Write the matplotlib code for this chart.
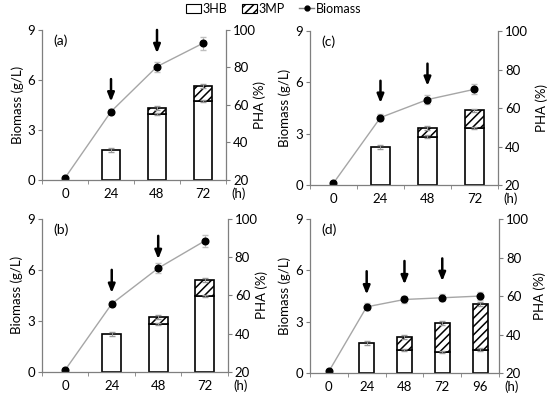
import numpy as np
import matplotlib.pyplot as plt
from matplotlib.patches import Patch
from matplotlib.lines import Line2D

plt.rcParams['font.family'] = ['Lato', 'DejaVu Sans']
plt.rcParams['hatch.linewidth'] = 1.1

# time points
t4 = ['0', '24', '48', '72']
t5 = ['0', '24', '48', '72', '96']

# biomass (g/L) and errors
bio_a = [0.12, 4.1, 6.8, 8.2]
bio_a_err = [0.05, 0.15, 0.3, 0.4]
bio_b = [0.12, 4.0, 6.1, 7.7]
bio_b_err = [0.05, 0.15, 0.3, 0.35]
bio_c = [0.12, 3.95, 5.0, 5.6]
bio_c_err = [0.05, 0.2, 0.25, 0.3]
bio_d = [0.1, 3.87, 4.3, 4.4, 4.5]
bio_d_err = [0.05, 0.2, 0.2, 0.2, 0.25]

# PHA content (%), nan = no bar
hb_a = [np.nan, 36, 55, 62]
mp_a = [0, 0, 3.5, 8]
hb_b = [np.nan, 39.6, 45, 59.5]
mp_b = [0, 0, 3.5, 8.5]
hb_c = [np.nan, 39.6, 45.2, 49.6]
mp_c = [0, 0, 4.3, 9.2]
hb_d = [np.nan, 35.6, 32, 30.8, 32.2]
mp_d = [0, 0, 6.8, 15.2, 23.6]
hb_err = 0.6
tot_err = 1.0

# feeding arrows: category index, arrow top, arrow tip (g/L)
arr_a = ([1, 2], [6.05, 9.0], [4.7, 7.6])
arr_b = ([1, 2], [6.0, 8.0], [4.64, 6.63])
arr_c = ([1, 2], [6.1, 7.1], [4.8, 5.8])
arr_d = ([1, 2, 3], [5.95, 6.55, 6.7], [4.59, 5.18, 5.37])

panels = [
    ('(a)', t4, bio_a, bio_a_err, hb_a, mp_a, arr_a, [0.0764, 0.549, 0.3345, 0.376], 1.15),
    ('(c)', t4, bio_c, bio_c_err, hb_c, mp_c, arr_c, [0.5636, 0.536, 0.3418, 0.386], 1.20),
    ('(b)', t4, bio_b, bio_b_err, hb_b, mp_b, arr_b, [0.0764, 0.068, 0.338, 0.3835], 1.15),
    ('(d)', t5, bio_d, bio_d_err, hb_d, mp_d, arr_d, [0.5636, 0.065, 0.3436, 0.386], 1.18),
]

axis_col = '#7f7f7f'
fs = 9.5
fig = plt.figure(figsize=(5.5, 3.99), dpi=100)

for lab, cats, bio, bio_err, hb, mp, arr, rect, pha_x in panels:
    ax = fig.add_axes(rect)
    ax2 = ax.twinx()
    ax.set_zorder(ax2.get_zorder() + 1)
    ax.patch.set_visible(False)
    x = np.arange(len(cats))
    hb = np.array(hb, dtype=float)
    mp = np.array(mp, dtype=float)
    m = ~np.isnan(hb)

    # bars on PHA axis, starting at axis bottom (20)
    ax2.bar(x[m], hb[m] - 20, bottom=20, width=0.4, color='white', edgecolor='black', linewidth=1.2)
    mm = m & (mp > 0)
    ax2.bar(x[mm], mp[mm], bottom=hb[mm], width=0.4, color='white', edgecolor='black',
            hatch='////', linewidth=1.2)
    ax2.errorbar(x[mm], hb[mm], yerr=hb_err, fmt='none', ecolor='#999999', elinewidth=0.7, capsize=2)
    ax2.errorbar(x[m], (hb + mp)[m], yerr=tot_err, fmt='none', ecolor='#999999', elinewidth=0.7, capsize=2)
    ax2.set_ylim(20, 100)
    ax2.set_yticks([20, 40, 60, 80, 100])
    ax2.set_ylabel('PHA (%)', fontsize=fs, rotation=90)
    ax2.yaxis.set_label_coords(pha_x, 0.5)

    # biomass line
    ax.errorbar(x, bio, yerr=bio_err, color='#a6a6a6', lw=1.0, marker='o', ms=4.8, mfc='black',
                mec='black', ecolor='#bfbfbf', elinewidth=0.7, capsize=2)
    ax.set_ylim(0, 9)
    ax.set_yticks([0, 3, 6, 9])
    ax.set_xlim(-0.5, len(cats) - 0.5)
    ax.set_xticks(x)
    ax.set_xticklabels(cats)
    ax.set_xticks(np.arange(len(cats) + 1) - 0.5, minor=True)
    ax.tick_params(axis='x', which='major', length=0, pad=6)
    ax.tick_params(axis='x', which='minor', length=3, color=axis_col, direction='out')
    ax.set_ylabel('Biomass (g/L)', fontsize=fs)
    ax.yaxis.set_label_coords(-0.1, 0.5)

    for ix, top, tip in zip(*arr):
        ax.annotate('', xy=(ix, tip), xytext=(ix, top),
                    arrowprops=dict(arrowstyle='-|>,head_length=0.5,head_width=0.2', color='black', lw=1.8,
                                    shrinkA=0, shrinkB=0))

    ax.text(0.06, 0.97, lab, transform=ax.transAxes, fontsize=10, va='top', ha='left')
    ax.text(1.03, -0.09, '(h)', transform=ax.transAxes, fontsize=fs, va='center', ha='left')

    for a in (ax, ax2):
        a.spines['top'].set_visible(False)
        for s in ('left', 'right', 'bottom'):
            a.spines[s].set_color(axis_col)
            a.spines[s].set_linewidth(0.9)
        a.tick_params(axis='y', length=3, color=axis_col, labelsize=fs, pad=2)
    ax.tick_params(axis='x', labelsize=fs)
    ax.spines['right'].set_visible(False)
    ax2.spines['left'].set_visible(False)
    ax2.spines['bottom'].set_visible(False)

handles = [
    Patch(facecolor='white', edgecolor='black', linewidth=0.8),
    Patch(facecolor='white', edgecolor='black', hatch='////', linewidth=0.8),
    Line2D([0], [0], color='#7f7f7f', lw=1, marker='o', ms=3.5, mfc='black', mec='black'),
]
fig.legend(handles, ['3HB', '3MP', 'Biomass'], loc='center', bbox_to_anchor=(0.497, 0.978),
           ncol=3, frameon=False, fontsize=9, handlelength=1.2, handleheight=0.8,
           handletextpad=0.1, columnspacing=1.2, borderaxespad=0)

fig.savefig('out.png', dpi=100)
